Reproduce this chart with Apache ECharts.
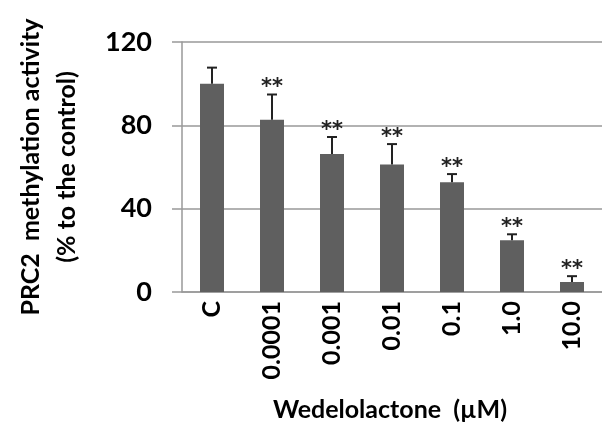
<!DOCTYPE html>
<html><head><meta charset="utf-8">
<script src="https://cdn.jsdelivr.net/npm/echarts@6/dist/echarts.min.js"></script>
<style>html,body{margin:0;padding:0;background:#fff}#c{width:602px;height:435px}</style>
</head><body><div id="c"></div>
<script>
const categories = ['C', '0.0001', '0.001', '0.01', '0.1', '1.0', '10.0'];
const means = [100, 82.7, 66.2, 61.2, 52.7, 24.9, 4.8];
const errTops = [107.7, 94.8, 74.4, 71.0, 56.6, 27.7, 7.6];
const marks = ['', '**', '**', '**', '**', '**', '**'];
const yTicks = [0, 40, 80, 120];

const FONT = 'Lato';
const chart = echarts.init(document.getElementById('c'));
chart.setOption({
  backgroundColor: '#fff',
  animation: false,
  grid: { left: 182, right: 0, top: 42, bottom: 143 },
  xAxis: {
    type: 'category', data: categories,
    axisLine: { lineStyle: { color: '#999', width: 1.5 } },
    axisTick: { show: false },
    axisLabel: { rotate: 90, fontFamily: FONT, fontWeight: 'bold', fontSize: 25, color: '#000', margin: 9 }
  },
  yAxis: {
    type: 'value', min: 0, max: 120, interval: 40,
    axisLine: { show: true, lineStyle: { color: '#999', width: 1.5 } },
    axisTick: { show: true, length: 10, lineStyle: { color: '#999', width: 1.5 } },
    splitLine: { lineStyle: { color: '#999', width: 1.5 } },
    axisLabel: { fontFamily: FONT, fontWeight: 'bold', fontSize: 27, color: '#000', margin: 30,
      formatter: v => yTicks.includes(v) ? String(v) : '' }
  },
  series: [
    { type: 'bar', data: means, barWidth: 24, itemStyle: { color: '#5f5f5f' }, z: 2 },
    {
      type: 'custom', z: 3,
      data: categories.map((c, i) => [i, means[i], errTops[i]]),
      renderItem: (params, api) => {
        const x = api.coord([api.value(0), 0])[0];
        const yb = api.coord([api.value(0), api.value(1)])[1];
        const yt = api.coord([api.value(0), api.value(2)])[1];
        const m = marks[params.dataIndex];
        const ch = [
          { type: 'line', shape: { x1: x, y1: yb, x2: x, y2: yt }, style: { stroke: '#222', lineWidth: 2 } },
          { type: 'line', shape: { x1: x - 5, y1: yt, x2: x + 5, y2: yt }, style: { stroke: '#222', lineWidth: 2 } }
        ];
        if (m) ch.push({ type: 'text', style: { text: m, x: x, y: yt + 4, align: 'center', verticalAlign: 'bottom',
          fontFamily: 'DejaVu Sans', fontWeight: 'bold', fontSize: 21, fill: '#222' } });
        return { type: 'group', children: ch };
      }
    }
  ],
  graphic: [
    { type: 'text', x: 31, y: 167, rotation: Math.PI / 2,
      style: { text: 'PRC2  methylation activity', fontFamily: FONT, fontWeight: 'bold', fontSize: 25, fill: '#000', align: 'center', verticalAlign: 'middle' } },
    { type: 'text', x: 67, y: 167, rotation: Math.PI / 2,
      style: { text: '(% to the control)', fontFamily: FONT, fontWeight: 'bold', fontSize: 25, fill: '#000', align: 'center', verticalAlign: 'middle' } },
    { type: 'text', x: 390, y: 410,
      style: { text: 'Wedelolactone  (µM)', fontFamily: FONT, fontWeight: 'bold', fontSize: 25, fill: '#000', align: 'center', verticalAlign: 'middle' } }
  ]
});
</script></body></html>
